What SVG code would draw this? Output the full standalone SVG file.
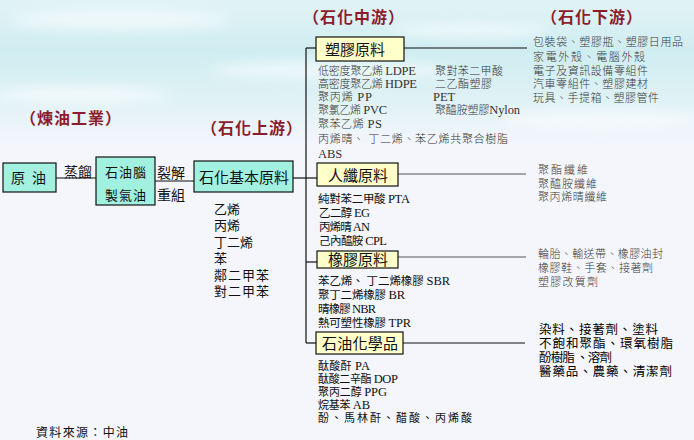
<svg xmlns="http://www.w3.org/2000/svg" width="694" height="440" viewBox="0 0 694 440">
<defs>
<linearGradient id="sky" x1="0" y1="0" x2="0" y2="1">
<stop offset="0" stop-color="#e2f3f6"/>
<stop offset="0.35" stop-color="#cfedf1"/>
<stop offset="0.7" stop-color="#e0f2f5"/>
<stop offset="1" stop-color="#f4f6fc"/>
</linearGradient>
<filter id="blur" x="-20%" y="-50%" width="140%" height="200%"><feGaussianBlur stdDeviation="6"/></filter>
<style>
.bg{fill:#f4f6fc}
.title{font-family:"Liberation Serif","Noto Sans CJK TC",serif;font-size:16px;font-weight:bold;fill:#8c1c2c}
.t{font-family:"Liberation Serif","Noto Sans CJK TC",serif;fill:#111}
.box{stroke:#111;stroke-width:1.2}
.cyan{fill:#a2f0e0}
.yel{fill:#ffffca}
.ln{stroke:#111;stroke-width:1.2;fill:none}
.gln{stroke:#555;stroke-width:1;fill:none}
.s11{font-size:11px;fill:#333;font-weight:300}
.s12{font-size:11.5px}
.s13{font-size:13px}
.r11{font-size:11px;fill:#3a3a3a;font-weight:300}
.r13{font-size:12.5px;fill:#000}
.lat{font-size:12.5px}
</style>
</defs>
<rect class="bg" x="0" y="0" width="694" height="440"/>
<rect x="0" y="0" width="694" height="145" fill="url(#sky)"/>
<g filter="url(#blur)" fill="#ffffff" opacity="0.55">
<ellipse cx="120" cy="20" rx="110" ry="10"/>
<ellipse cx="330" cy="70" rx="120" ry="9"/>
<ellipse cx="80" cy="95" rx="90" ry="8"/>
<ellipse cx="600" cy="120" rx="100" ry="9"/>
<ellipse cx="470" cy="30" rx="80" ry="7"/>
</g>

<g id="titles">
<text class="title" x="20" y="124" letter-spacing="1">（煉油工業）</text>
<text class="title" x="201" y="134" letter-spacing="1">（石化上游）</text>
<text class="title" x="303" y="23" letter-spacing="1">（石化中游）</text>
<text class="title" x="541" y="23" letter-spacing="1">（石化下游）</text>
</g>

<g id="connectors">
<line class="ln" x1="56" y1="178" x2="96" y2="178"/>
<line class="ln" x1="155" y1="181" x2="194" y2="181"/>
<line class="ln" x1="293" y1="178" x2="317" y2="178"/>
<line class="ln" x1="306" y1="48" x2="306" y2="343"/>
<line class="ln" x1="306" y1="48" x2="316" y2="48"/>
<line class="ln" x1="306" y1="262" x2="317" y2="262"/>
<line class="ln" x1="306" y1="343" x2="316" y2="343"/>
<line class="ln" x1="404" y1="48" x2="527" y2="48"/>
<line class="gln" x1="398" y1="174" x2="526" y2="174"/>
<line class="gln" x1="398" y1="257" x2="526" y2="257"/>
<line class="ln" x1="403" y1="343" x2="525" y2="343"/>
<text class="t" x="64" y="177" font-size="14">蒸餾</text>
<text class="t" x="157" y="178" font-size="14">裂解</text>
<text class="t" x="157" y="200" font-size="14">重組</text>
</g>

<g id="crude">
<rect class="box cyan" x="3" y="163" width="53" height="29"/>
<text class="t" x="11" y="183" font-size="14" xml:space="preserve">原  油</text>
</g>

<g id="naphtha">
<rect class="box cyan" x="96" y="157" width="59" height="48"/>
<text class="t" x="105" y="177" font-size="13" letter-spacing="1">石油腦</text>
<text class="t" x="105" y="200" font-size="13" letter-spacing="1">製氣油</text>
</g>

<g id="basic">
<rect class="box cyan" x="194" y="161" width="99" height="31"/>
<text class="t" x="199" y="183" font-size="15" textLength="90">石化基本原料</text>
<text class="t s13" x="214" y="214">乙烯</text>
<text class="t s13" x="214" y="230">丙烯</text>
<text class="t s13" x="214" y="247">丁二烯</text>
<text class="t s13" x="214" y="263">苯</text>
<text class="t s13" x="214" y="280" letter-spacing="1">鄰二甲苯</text>
<text class="t s13" x="214" y="296" letter-spacing="1">對二甲苯</text>
</g>

<g id="plastic">
<rect class="box yel" x="316" y="37" width="88" height="24"/>
<text class="t" x="325" y="55" font-size="15" textLength="60">塑膠原料</text>
<text class="t s11" x="318" y="75" textLength="98">低密度聚乙烯 <tspan class="lat">LDPE</tspan></text>
<text class="t s11" x="318" y="88" textLength="99">高密度聚乙烯 <tspan class="lat">HDPE</tspan></text>
<text class="t s11" x="318" y="101" textLength="54">聚丙烯 <tspan class="lat">PP</tspan></text>
<text class="t s11" x="318" y="114" textLength="69">聚氯乙烯 <tspan class="lat">PVC</tspan></text>
<text class="t s11" x="318" y="128" textLength="64">聚苯乙烯 <tspan class="lat">PS</tspan></text>
<text class="t s11" x="318" y="143" textLength="190">丙烯晴、 丁二烯、苯乙烯共聚合樹脂</text>
<text class="t s11 lat" x="318" y="158">ABS</text>
<text class="t s11" x="435" y="75" textLength="68">聚對苯二甲酸</text>
<text class="t s11" x="435" y="88" textLength="57">二乙酯塑膠</text>
<text class="t s11 lat" x="433" y="101">PET</text>
<text class="t s11" x="435" y="114" textLength="85">聚醯胺塑膠<tspan class="lat">Nylon</tspan></text>
</g>

<g id="plastic-down">
<text class="t r11" x="533" y="46" textLength="150">包裝袋、塑膠瓶、塑膠日用品</text>
<text class="t r11" x="533" y="61" textLength="112">家電外殼、電腦外殼</text>
<text class="t r11" x="533" y="75" textLength="115">電子及資訊設備零組件</text>
<text class="t r11" x="533" y="88" textLength="115">汽車零組件、塑膠建材</text>
<text class="t r11" x="533" y="102" textLength="126">玩具、手提箱、塑膠管件</text>
</g>

<g id="fiber">
<rect class="box yel" x="317" y="163" width="81" height="23"/>
<text class="t" x="328" y="181" font-size="15" textLength="60">人纖原料</text>
<text class="t s12" x="318" y="203" textLength="92">純對苯二甲酸 <tspan class="lat">PTA</tspan></text>
<text class="t s12" x="319" y="217" textLength="51">乙二醇 <tspan class="lat">EG</tspan></text>
<text class="t s12" x="319" y="231" textLength="51">丙烯晴 <tspan class="lat">AN</tspan></text>
<text class="t s12" x="319" y="245" textLength="68">己內醯胺 <tspan class="lat">CPL</tspan></text>
</g>

<g id="fiber-down">
<text class="t r11" x="538" y="174" textLength="50">聚酯纖維</text>
<text class="t r11" x="538" y="188" textLength="59">聚醯胺纖維</text>
<text class="t r11" x="538" y="201" textLength="69">聚丙烯晴纖維</text>
</g>

<g id="rubber">
<rect class="box yel" x="317" y="251" width="81" height="17"/>
<text class="t" x="328" y="265" font-size="15" textLength="60">橡膠原料</text>
<text class="t s12" x="318" y="285" textLength="132">苯乙烯、 丁二烯橡膠 <tspan class="lat">SBR</tspan></text>
<text class="t s12" x="318" y="299" textLength="87">聚丁二烯橡膠 <tspan class="lat">BR</tspan></text>
<text class="t s12" x="318" y="313" textLength="58">晴橡膠 <tspan class="lat">NBR</tspan></text>
<text class="t s12" x="318" y="327" textLength="93">熱可塑性橡膠 <tspan class="lat">TPR</tspan></text>
</g>

<g id="rubber-down">
<text class="t r11" x="538" y="258" textLength="125">輪胎、輸送帶、橡膠油封</text>
<text class="t r11" x="538" y="272" textLength="115">橡膠鞋、手套、接著劑</text>
<text class="t r11" x="538" y="286" textLength="60">塑膠改質劑</text>
</g>

<g id="chem">
<rect class="box yel" x="316" y="332" width="87" height="22"/>
<text class="t" x="322" y="349" font-size="15" textLength="76">石油化學品</text>
<text class="t" font-size="11" x="318" y="370" textLength="52">酞酸酐 <tspan class="lat">PA</tspan></text>
<text class="t" font-size="11" x="318" y="383" textLength="80">酞酸二辛酯 <tspan class="lat">DOP</tspan></text>
<text class="t" font-size="11" x="318" y="396" textLength="69">聚丙二醇 <tspan class="lat">PPG</tspan></text>
<text class="t" font-size="11" x="318" y="409" textLength="52">烷基苯 <tspan class="lat">AB</tspan></text>
<text class="t" font-size="11" x="318" y="422" textLength="154">酚、馬林酐、醋酸、丙烯酸</text>
</g>

<g id="chem-down">
<text class="t r13" x="539" y="334" textLength="119">染料、接著劑、塗料</text>
<text class="t r13" x="539" y="348" textLength="134">不飽和聚酯、環氧樹脂</text>
<text class="t r13" x="539" y="362" textLength="73">酚樹脂 、溶劑</text>
<text class="t r13" x="539" y="376" textLength="133">醫藥品、農藥、清潔劑</text>
</g>

<g id="source">
<text class="t" font-size="12" x="36" y="437" textLength="92">資料來源：中油</text>
</g>
</svg>
